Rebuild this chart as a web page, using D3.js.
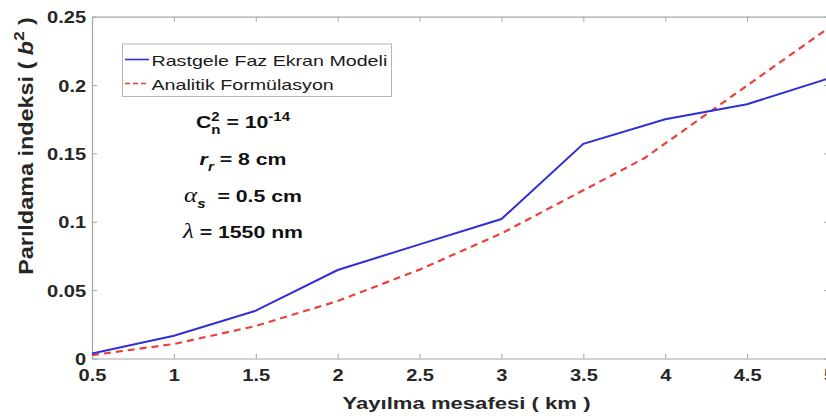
<!DOCTYPE html>
<html>
<head>
<meta charset="utf-8">
<script src="https://cdn.jsdelivr.net/npm/d3@7"></script>
<style>
  body { margin: 0; background: #fff; }
  svg { display: block; font-family: "Liberation Sans", Arial, sans-serif; }
</style>
</head>
<body>
<div id="chart"></div>
<script>
//
// Data
//
var distKm     = [0.5, 1, 1.5, 2, 2.5, 3, 3.5, 4, 4.5, 5];
var phaseModel = [0.0037, 0.0167, 0.035, 0.0647, 0.0835, 0.102, 0.157, 0.175, 0.186, 0.205];
var analytKm   = [0.5, 1, 1.5, 2, 2.5, 3, 3.5, 3.87, 5];
var analytic   = [0.0025, 0.0106, 0.0238, 0.042, 0.065, 0.0915, 0.123, 0.1463, 0.242];
var xTicks     = [0.5, 1, 1.5, 2, 2.5, 3, 3.5, 4, 4.5, 5];
var yTicks     = [0, 0.05, 0.1, 0.15, 0.2, 0.25];
var seriesNames = ["Rastgele Faz Ekran Modeli", "Analitik Formülasyon"];

//
// Global Vars
//
var width = 826, height = 416,
    plot = {left: 92, right: 829, top: 16.7, bottom: 358.5},
    sx = 1.18,             // text in the picture is wider than tall
    blue = "#2f2fd6",
    red = "#e8403a",
    axisGray = "#a6a6a6",
    textDark = "#262626";

var svg = d3.select("#chart").append("svg")
    .attr("width", width)
    .attr("height", height);

var x = d3.scaleLinear().domain([0.5, 5]).range([plot.left, plot.right]);
var y = d3.scaleLinear().domain([0, 0.25]).range([plot.bottom, plot.top]);

//
// Axes (box with inward ticks)
//
function styleAxis(g) {
    g.select(".domain").attr("stroke", axisGray).attr("stroke-width", 1.2);
    g.selectAll(".tick line").attr("stroke", axisGray).attr("stroke-width", 1);
    g.selectAll(".tick text")
        .attr("fill", textDark)
        .attr("font-size", 17)
        .attr("font-weight", "bold")
        .attr("font-family", "Liberation Sans, Arial, sans-serif");
}

svg.append("g")
    .attr("transform", "translate(0," + plot.bottom + ")")
    .call(d3.axisBottom(x).tickValues(xTicks).tickSizeInner(-5).tickSizeOuter(0)
        .tickPadding(10).tickFormat(d3.format("")))
    .call(styleAxis)
    .selectAll(".tick text")
    .attr("transform", "scale(" + sx + ",1)");

svg.append("g")
    .attr("transform", "translate(" + plot.left + ",0)")
    .call(d3.axisLeft(y).tickValues(yTicks).tickSizeInner(-5).tickSizeOuter(0)
        .tickPadding(5).tickFormat(d3.format("")))
    .call(styleAxis)
    .selectAll(".tick text")
    .attr("dy", "0.36em")
    .attr("transform", "scale(" + sx + ",1)");

svg.append("g")
    .attr("transform", "translate(0," + plot.top + ")")
    .call(d3.axisTop(x).tickValues(xTicks).tickSizeInner(-5).tickSizeOuter(0).tickFormat(""))
    .call(styleAxis);

svg.append("g")
    .attr("transform", "translate(" + plot.right + ",0)")
    .call(d3.axisRight(y).tickValues(yTicks).tickSizeInner(-5).tickSizeOuter(0).tickFormat(""))
    .call(styleAxis);

//
// Lines
//
var line = d3.line()
    .x(function(d) { return x(d[0]); })
    .y(function(d) { return y(d[1]); });

var clip = svg.append("clipPath").attr("id", "plotclip")
    .append("rect")
    .attr("x", plot.left).attr("y", plot.top - 2)
    .attr("width", plot.right - plot.left).attr("height", plot.bottom - plot.top + 4);

var lines = svg.append("g").attr("clip-path", "url(#plotclip)");

lines.append("path")
    .datum(d3.zip(analytKm, analytic))
    .attr("fill", "none")
    .attr("stroke", red)
    .attr("stroke-width", 2.2)
    .attr("stroke-dasharray", "7,5")
    .attr("d", line);

lines.append("path")
    .datum(d3.zip(distKm, phaseModel))
    .attr("fill", "none")
    .attr("stroke", blue)
    .attr("stroke-width", 2)
    .attr("d", line);

//
// Axis titles
//
svg.append("text")
    .attr("transform", "translate(" + ((plot.left + 829) / 2 + 6) + ",409) scale(1.3,1)")
    .attr("text-anchor", "middle")
    .attr("font-size", 17)
    .attr("font-weight", "bold")
    .attr("fill", textDark)
    .text("Yayılma mesafesi ( km )");

var ylab = svg.append("text")
    .attr("transform", "translate(33,146) rotate(-90) scale(1.3,1.15)")
    .attr("text-anchor", "middle")
    .attr("font-size", 18)
    .attr("font-weight", "bold")
    .attr("fill", textDark);
ylab.append("tspan").text("Parıldama indeksi ( ");
ylab.append("tspan").attr("font-style", "italic").text("b");
ylab.append("tspan").attr("font-size", 13).attr("dy", -8).text("2");
ylab.append("tspan").attr("dy", 8).text(" )");

//
// Legend
//
var legend = svg.append("g");
legend.append("rect")
    .attr("x", 122.5).attr("y", 44)
    .attr("width", 269).attr("height", 52.5)
    .attr("fill", "#fff")
    .attr("stroke", "#b5b5b5")
    .attr("stroke-width", 1);

var legRows = legend.selectAll("g.row")
    .data(seriesNames)
    .enter().append("g")
    .attr("class", "row")
    .attr("transform", function(d, i) { return "translate(0," + (59.5 + i * 24) + ")"; });

legRows.append("line")
    .attr("x1", 125).attr("x2", 149)
    .attr("y1", 0).attr("y2", 0)
    .attr("stroke", function(d, i) { return i == 0 ? blue : red; })
    .attr("stroke-width", function(d, i) { return i == 0 ? 1.6 : 1.3; })
    .attr("stroke-dasharray", function(d, i) { return i == 0 ? null : "5,3"; });

legRows.append("text")
    .attr("transform", "translate(151.5,6) scale(1.31,1)")
    .attr("font-size", 15)
    .attr("fill", "#1a1a1a")
    .text(function(d) { return d; });

//
// Parameter annotations
//
var BOLD = "Liberation Sans, Arial, sans-serif";
var SERIF = "Liberation Serif, DejaVu Serif, serif";

var notes = [
    {cy: 128, parts: [
        {t: "C"},
        {t: "2", size: 12, dy: -7, stack: true},
        {t: "n", size: 12, dy: 6},
        {t: " = 10"},
        {t: "-14", size: 12, dy: -7}]},
    {cy: 165, parts: [
        {t: "r", italic: true},
        {t: "r", size: 12, dy: 6, italic: true},
        {t: " = 8 cm"}]},
    {cy: 202, parts: [
        {t: "α", family: SERIF, italic: true, normal: true, size: 20},
        {t: "s", size: 12, dy: 6, italic: true},
        {t: "  = 0.5 cm"}]},
    {cy: 238, parts: [
        {t: "λ", family: SERIF, italic: true, normal: true, size: 20},
        {t: " = 1550 nm"}]}
];

notes.forEach(function(n) {
    var g = svg.append("g");
    var inner = g.append("g");
    var cx = 0, stackW = 0;
    n.parts.forEach(function(p) {
        var t = inner.append("text")
            .attr("x", cx)
            .attr("y", p.dy || 0)
            .attr("font-family", p.family || BOLD)
            .attr("font-size", p.size || 17)
            .attr("font-weight", p.normal ? "normal" : "bold")
            .attr("font-style", p.italic ? "italic" : "normal")
            .attr("fill", "#111")
            .style("white-space", "pre")
            .text(p.t);
        var w = t.node().getComputedTextLength();
        if (p.stack) {
            stackW = w;
        } else {
            cx += Math.max(w, stackW);
            stackW = 0;
        }
    });
    var k = 1.25;
    g.attr("transform", "translate(" + (243 - cx * k / 2) + "," + n.cy + ") scale(" + k + ",1)");
});
</script>
</body>
</html>
